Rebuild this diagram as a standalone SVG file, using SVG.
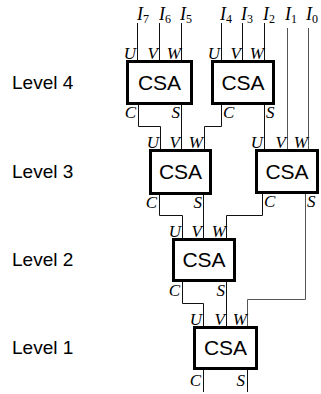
<svg xmlns="http://www.w3.org/2000/svg" width="321" height="394" viewBox="0 0 321 394">
<style>
.box{fill:#fff;stroke:#000;stroke-width:3}
.csa{font-family:"Liberation Sans",Arial,sans-serif;font-size:21px;text-anchor:middle;fill:#000}
.lvl{font-family:"Liberation Sans",Arial,sans-serif;font-size:19px;fill:#000}
.lab{font-family:"Liberation Serif","Times New Roman",serif;font-style:italic;font-size:17px;fill:#000;text-anchor:end}
.r{text-anchor:start}
.in{font-family:"Liberation Serif","Times New Roman",serif;font-size:18px;fill:#000}
.sub{font-size:12px;font-style:normal}
.w{fill:none;stroke:#111;stroke-width:1}
.g{fill:none;stroke:#555;stroke-width:1}
</style>
<rect width="321" height="394" fill="#fff"/>
<g id="connectors">
<path class="w" d="M137.5 23V60M159.5 23V60M181.5 23V60"/>
<path class="w" d="M221.5 23V60M242.5 23V60M264.5 23V60"/>
<path class="g" d="M287.5 28V149M308.5 28V149"/>
<path class="w" d="M138.5 104V126.5H160.5V149"/>
<path class="w" d="M181.5 104V149"/>
<path class="w" d="M221.5 104V126.5H204.5V149"/>
<path class="w" d="M264.5 104V149"/>
<path class="w" d="M159.5 194V215.5H182.5V238"/>
<path class="w" d="M203.5 194V238"/>
<path class="w" d="M262.5 193V215.5H226.5V238"/>
<path class="g" d="M305.5 193V299.5H247.5V326"/>
<path class="w" d="M182.5 281V303.5H203.5V326"/>
<path class="w" d="M226.5 281V326"/>
<path class="w" d="M203.5 369V392M247.5 369V392"/>
</g>
<g id="inputs">
<text class="in" x="137" y="20"><tspan font-style="italic">I</tspan><tspan class="sub" dy="3">7</tspan></text>
<text class="in" x="159" y="20"><tspan font-style="italic">I</tspan><tspan class="sub" dy="3">6</tspan></text>
<text class="in" x="180" y="20"><tspan font-style="italic">I</tspan><tspan class="sub" dy="3">5</tspan></text>
<text class="in" x="220" y="20"><tspan font-style="italic">I</tspan><tspan class="sub" dy="3">4</tspan></text>
<text class="in" x="241" y="20"><tspan font-style="italic">I</tspan><tspan class="sub" dy="3">3</tspan></text>
<text class="in" x="263" y="20"><tspan font-style="italic">I</tspan><tspan class="sub" dy="3">2</tspan></text>
<text class="in" x="285" y="20"><tspan font-style="italic">I</tspan><tspan class="sub" dy="3">1</tspan></text>
<text class="in" x="306" y="20"><tspan font-style="italic">I</tspan><tspan class="sub" dy="3">0</tspan></text>
</g>
<g id="levels">
<text class="lvl" x="12" y="89">Level 4</text>
<text class="lvl" x="12" y="178">Level 3</text>
<text class="lvl" x="12" y="266">Level 2</text>
<text class="lvl" x="12" y="354">Level 1</text>
</g>
<g id="csa1">
<rect class="box" x="127.5" y="61.5" width="64" height="42"/>
<text class="csa" x="159.5" y="90">CSA</text>
<text class="lab" x="136" y="59">U</text><text class="lab" x="158" y="59">V</text><text class="lab" x="181" y="59">W</text>
<text class="lab" x="136" y="118">C</text><text class="lab" x="180" y="118">S</text>
</g>
<g id="csa2">
<rect class="box" x="212.5" y="61.5" width="61" height="42"/>
<text class="csa" x="243" y="90">CSA</text>
<text class="lab" x="220" y="59">U</text><text class="lab" x="241" y="59">V</text><text class="lab" x="264" y="59">W</text>
<text class="lab r" x="223" y="118">C</text><text class="lab r" x="266" y="118">S</text>
</g>
<g id="csa3">
<rect class="box" x="150.5" y="150.5" width="60" height="43"/>
<text class="csa" x="180.5" y="179">CSA</text>
<text class="lab" x="159" y="148">U</text><text class="lab" x="180" y="148">V</text><text class="lab" x="203" y="148">W</text>
<text class="lab" x="157" y="208">C</text><text class="lab" x="202" y="208">S</text>
</g>
<g id="csa4">
<rect class="box" x="256.5" y="150.5" width="61" height="42"/>
<text class="csa" x="287" y="179">CSA</text>
<text class="lab" x="263" y="148">U</text><text class="lab" x="286" y="148">V</text><text class="lab" x="308" y="148">W</text>
<text class="lab r" x="264" y="207">C</text><text class="lab r" x="307" y="207">S</text>
</g>
<g id="csa5">
<rect class="box" x="173.5" y="239.5" width="61" height="41"/>
<text class="csa" x="204" y="267">CSA</text>
<text class="lab" x="181" y="237">U</text><text class="lab" x="202" y="237">V</text><text class="lab" x="226" y="237">W</text>
<text class="lab" x="180" y="296">C</text><text class="lab" x="225" y="296">S</text>
</g>
<g id="csa6">
<rect class="box" x="194.5" y="327.5" width="62" height="41"/>
<text class="csa" x="225.5" y="355">CSA</text>
<text class="lab" x="202" y="325">U</text><text class="lab" x="225" y="325">V</text><text class="lab" x="247" y="325">W</text>
<text class="lab" x="201" y="386">C</text><text class="lab" x="245" y="386">S</text>
</g>
</svg>
